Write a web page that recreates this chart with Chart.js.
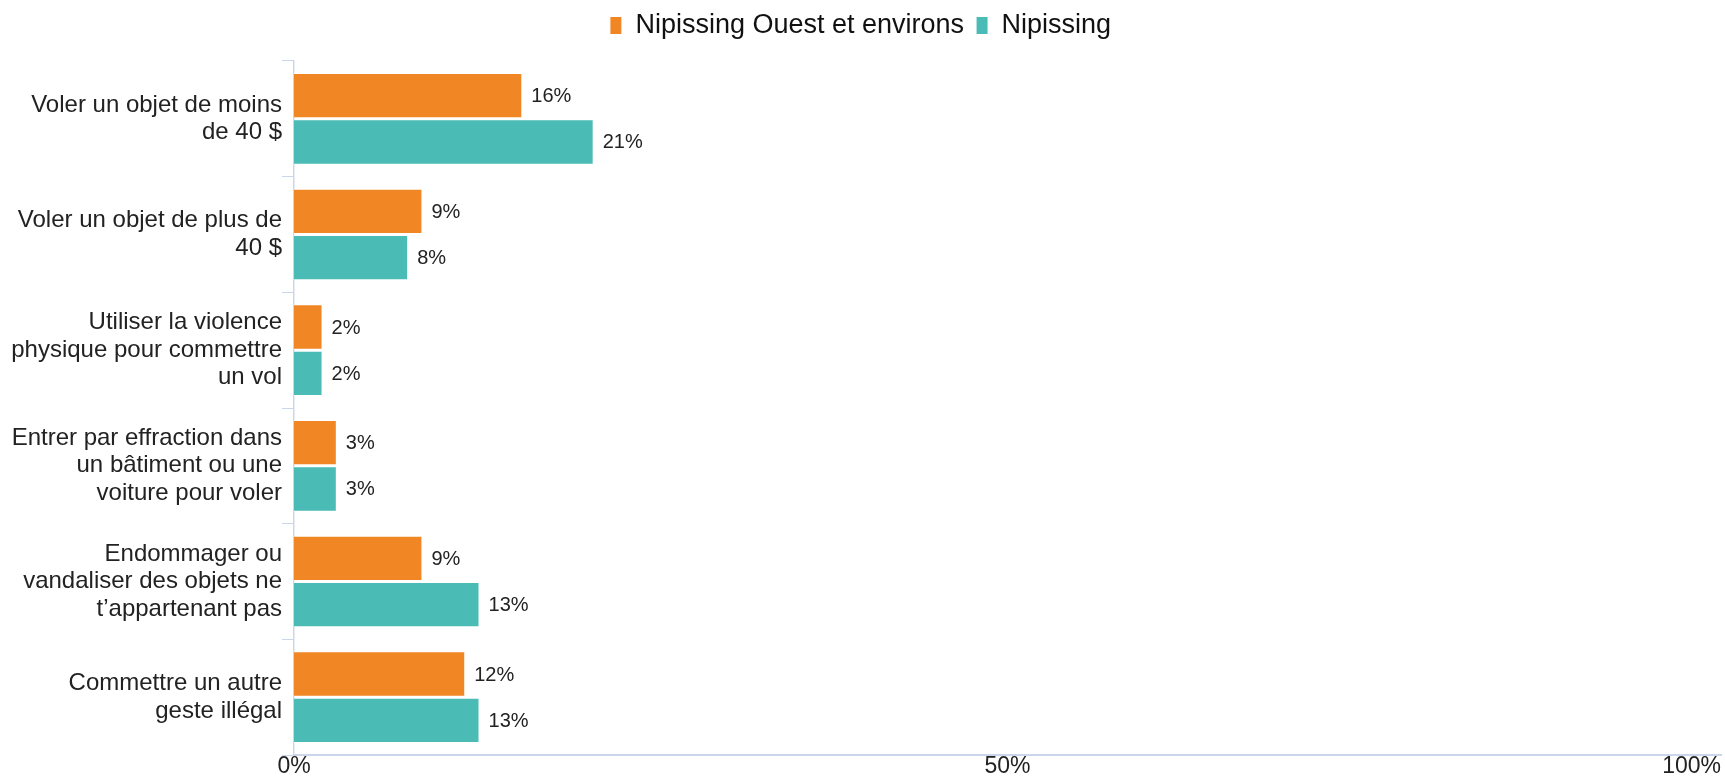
<!DOCTYPE html>
<html>
<head>
<meta charset="utf-8">
<script src="https://cdn.jsdelivr.net/npm/chart.js@4"></script>
<style>
  body { margin: 0; background: #fff; }
  #wrap { width: 1725px; height: 778px; }
</style>
</head>
<body>
<div id="wrap"><canvas id="myChart" width="1725" height="778"></canvas></div>
<script>
var categories = [
    ["Voler un objet de moins", "de 40 $"],
    ["Voler un objet de plus de", "40 $"],
    ["Utiliser la violence", "physique pour commettre", "un vol"],
    ["Entrer par effraction dans", "un bâtiment ou une", "voiture pour voler"],
    ["Endommager ou", "vandaliser des objets ne", "t\u2019appartenant pas"],
    ["Commettre un autre", "geste illégal"]
];
var series_names = ["Nipissing Ouest et environs", "Nipissing"];
var ouest_values = [16, 9, 2, 3, 9, 12];
var nipissing_values = [21, 8, 2, 3, 13, 13];
var x_ticks = [0, 50, 100];

var font_family = "'Liberation Sans', Arial, sans-serif";
var axis_color = '#ccd6eb';

// write the value at the end of each bar
var barLabels = {
    id: 'barLabels',
    afterDatasetsDraw: function(chart) {
        var ctx = chart.ctx;
        ctx.save();
        ctx.font = '20px ' + font_family;
        ctx.fillStyle = '#222';
        ctx.textAlign = 'left';
        ctx.textBaseline = 'middle';
        chart.data.datasets.forEach(function(ds, i) {
            var meta = chart.getDatasetMeta(i);
            meta.data.forEach(function(bar, j) {
                ctx.fillText(ds.data[j] + '%', bar.x + 9, bar.y + 1);
            });
        });
        ctx.restore();
    }
};

// more room under the legend
var legendGap = {
    id: 'legendGap',
    beforeInit: function(chart) {
        var fit = chart.legend.fit;
        chart.legend.fit = function() {
            fit.bind(chart.legend)();
            this.height += 12;
        };
    }
};

// first x label centred on its tick, last one kept inside
var firstTickCenter = {
    id: 'firstTickCenter',
    beforeDraw: function(chart) {
        var items = chart.scales.x.getLabelItems(chart.chartArea);
        if (items.length) items[0].options.textAlign = 'center';
    }
};

var ctx = document.getElementById('myChart').getContext('2d');
var chart = new Chart(ctx, {
    type: 'bar',
    data: {
        labels: categories,
        datasets: [{
            label: series_names[0],
            backgroundColor: '#f08724',
            borderColor: '#ffffff',
            borderWidth: 1,
            data: ouest_values
        },
        {
            label: series_names[1],
            backgroundColor: '#4bbbb5',
            borderColor: '#ffffff',
            borderWidth: 1,
            data: nipissing_values
        }]
    },
    options: {
        indexAxis: 'y',
        responsive: false,
        animation: false,
        categoryPercentage: 0.8,
        barPercentage: 0.98,
        layout: { padding: { top: 0, right: 4, bottom: 0, left: 0 } },
        plugins: {
            legend: {
                position: 'top',
                labels: {
                    boxWidth: 12,
                    boxHeight: 18,
                    padding: 12,
                    color: '#111',
                    font: { family: font_family, size: 27 }
                }
            },
            tooltip: { enabled: false }
        },
        scales: {
            x: {
                min: 0,
                max: 100,
                afterBuildTicks: function(scale) {
                    scale.ticks = x_ticks.map(function(v) { return { value: v }; });
                },
                grid: { display: false, drawTicks: false },
                border: { display: true, color: axis_color, width: 2 },
                ticks: {
                    align: 'inner',
                    padding: 0,
                    color: '#222',
                    font: { family: font_family, size: 23, lineHeight: 1 },
                    callback: function(v) { return v + '%'; }
                }
            },
            y: {
                afterFit: function(scale) {
                    scale.width = 294;
                    // labels sit in the middle of their bands, no overflow
                    scale.paddingTop = 0;
                    scale.paddingBottom = 0;
                },
                grid: {
                    drawOnChartArea: false,
                    drawTicks: true,
                    tickLength: 12,
                    color: axis_color,
                    lineWidth: 1
                },
                border: { display: true, color: axis_color, width: 1.5 },
                ticks: {
                    padding: 0,
                    color: '#222',
                    font: { family: font_family, size: 24, lineHeight: 1.15 }
                }
            }
        }
    },
    plugins: [barLabels, legendGap, firstTickCenter]
});
</script>
</body>
</html>
